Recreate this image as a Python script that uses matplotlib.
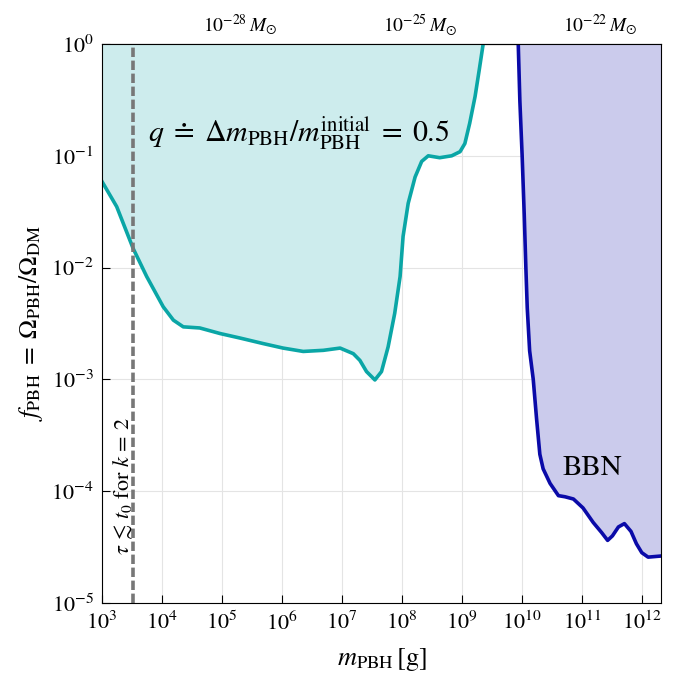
import numpy as np
import matplotlib
matplotlib.use("Agg")
import matplotlib.pyplot as plt

plt.rcParams['font.family'] = 'STIXGeneral'
plt.rcParams['mathtext.fontset'] = 'stix'

# curves, log10 values
teal_logm = [3.0, 3.245, 3.52, 3.745, 4.02, 4.19, 4.355, 4.63, 4.97, 5.3, 5.69, 6.02, 6.355,
             6.69, 6.97, 7.19, 7.30, 7.41, 7.55, 7.66, 7.77, 7.88, 7.97, 8.02, 8.105, 8.22,
             8.33, 8.44, 8.63, 8.83, 8.97, 9.05, 9.13, 9.22, 9.29, 9.355]
teal_logf = [-1.23, -1.455, -1.83, -2.08, -2.35, -2.47, -2.53, -2.54, -2.59, -2.63, -2.68, -2.72, -2.75,
             -2.74, -2.72, -2.77, -2.83, -2.93, -3.005, -2.93, -2.71, -2.41, -2.08, -1.72, -1.425, -1.19,
             -1.05, -1.00, -1.017, -1.00, -0.963, -0.89, -0.71, -0.47, -0.23, 0.0]

bbn_logm = [9.94, 9.967, 10.005, 10.04, 10.067, 10.09, 10.13, 10.19, 10.245, 10.30, 10.355,
            10.47, 10.61, 10.72, 10.86, 11.02, 11.19, 11.33, 11.43, 11.51, 11.61, 11.71,
            11.82, 11.91, 12.0, 12.105, 12.32]
bbn_logf = [0.0, -0.51, -1.0, -1.53, -2.0, -2.36, -2.745, -3.0, -3.35, -3.67, -3.80,
            -3.93, -4.04, -4.05, -4.07, -4.15, -4.28, -4.37, -4.44, -4.40, -4.32, -4.29,
            -4.36, -4.47, -4.55, -4.59, -4.58]

m_lifetime = 3.3e3
msun_ticks = [1e-28, 1e-25, 1e-22]
MSUN = 2e33

x1 = 10 ** np.array(teal_logm)
y1 = 10 ** np.array(teal_logf)
x2 = 10 ** np.array(bbn_logm)
y2 = 10 ** np.array(bbn_logf)

fig = plt.figure(figsize=(6.76, 6.75), dpi=100)
ax = fig.add_axes([0.1509, 0.1067, 0.8269, 0.8281])

ax.fill_between(x1, y1, 1, color='#cdeced', lw=0)
ax.plot(x1, y1, color='#0aa6a6', lw=2.6, solid_joinstyle='round')
ax.fill_between(x2, y2, 1, color='#cbcbec', lw=0)
ax.plot(x2, y2, color='#0a0aa8', lw=2.6, solid_joinstyle='round')

ax.axvline(m_lifetime, color='#777777', lw=2.6, ls=(0, (2.6, 1.0)))
ax.text(2.3e3, 1.1e-4, r'$\tau \,\lesssim\, t_0$ for $k\,=\,2$', rotation=90,
        fontsize=16, ha='center', va='center')

ax.text(1.9e6, 0.16, r'$q \;\doteq\; \Delta m_{\rm PBH}/m_{\rm PBH}^{\rm initial} \;=\; 0.5$',
        fontsize=21.5, ha='center', va='center')
ax.text(1.5e11, 1.6e-4, 'BBN', fontsize=21, ha='center', va='center')

ax.set_xscale('log')
ax.set_yscale('log')
ax.set_xlim(1e3, 10 ** 12.32)
ax.set_ylim(1e-5, 1)
ax.set_xticks([10.0 ** k for k in range(3, 13)])
ax.set_yticks([10.0 ** k for k in range(-5, 1)])
ax.minorticks_off()
ax.grid(True, color='#e4e4e4', lw=0.8)
ax.set_axisbelow(True)
ax.tick_params(direction='in', length=6, labelsize=16, top=False, right=False, pad=6)

ax.set_xlabel(r'$m_{\rm PBH}\,[{\rm g}]$', fontsize=19, labelpad=8)
ax.set_ylabel(r'$f_{\rm PBH} \;=\; \Omega_{\rm PBH}/\Omega_{\rm DM}$', fontsize=18.5, labelpad=4)

sec = ax.secondary_xaxis('top', functions=(lambda m: m / MSUN, lambda s: s * MSUN))
sec.set_xticks(msun_ticks)
sec.set_xticklabels([r'$10^{%d}\,M_{\odot}$' % int(np.log10(v)) for v in msun_ticks])
sec.minorticks_off()
sec.tick_params(direction='in', length=6, labelsize=14, pad=4)

fig.savefig('out.png', dpi=100)
